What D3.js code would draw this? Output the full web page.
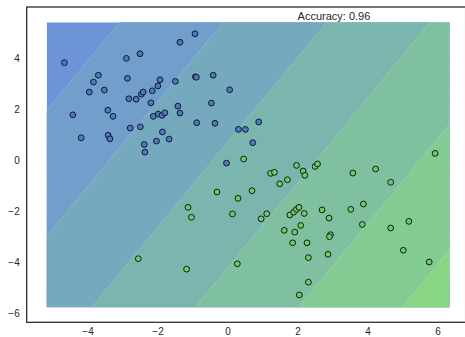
<!DOCTYPE html>
<html><head><meta charset="utf-8">
<script src="https://cdn.jsdelivr.net/npm/d3@7"></script>
<style>
body{margin:0;background:#fff}
svg{display:block}
text{font-family:"Liberation Sans",Arial,sans-serif;fill:#262626}
</style>
</head><body>
<svg id="c" width="465" height="337"></svg>
<script>
// ---- data ----
const blueX = [-4.66,-4.42,-4.18,-3.95,-3.83,-3.69,-3.52,-3.42,-3.27,-3.41,-3.36,-2.89,-2.86,-2.82,-2.78,-2.61,-2.50,-2.49,-2.46,-2.41,-2.38,-2.36,-2.19,-2.15,-2.12,-2.03,-1.99,-1.98,-1.93,-1.87,-1.86,-1.79,-1.67,-1.49,-1.42,-1.36,-1.36,-0.93,-0.92,-0.89,-0.88,-0.46,-0.41,-0.36,-0.03,0.06,0.31,0.51,0.89,0.72];
const blueY = [3.81,1.77,0.87,2.66,3.05,3.32,2.74,1.95,1.71,0.97,0.83,3.98,3.20,2.40,1.25,2.38,4.16,1.30,2.58,2.66,0.61,0.31,2.24,2.71,1.71,0.74,2.90,1.80,3.14,1.75,1.10,1.85,0.82,3.08,2.11,4.61,1.84,4.94,3.26,3.24,1.46,2.23,3.32,1.44,-0.12,2.75,1.20,1.20,1.49,0.68];
const greenX = [-0.30,0.30,-1.13,-1.03,0.14,-2.55,-1.17,0.28,5.93,0.46,1.97,2.50,2.57,4.23,1.23,1.34,2.16,2.21,1.71,1.49,3.58,4.66,0.70,0.96,1.12,1.78,1.89,1.97,2.04,2.19,2.70,2.90,3.52,3.88,3.85,4.66,5.18,1.62,1.92,2.09,1.86,2.27,2.94,2.91,2.31,2.87,5.02,5.76,2.31,2.05];
const greenY = [-1.25,-1.50,-1.85,-2.24,-2.11,-3.86,-4.27,-4.06,0.26,0.04,-0.21,-0.25,-0.15,-0.35,-0.52,-0.48,-0.43,-0.60,-0.77,-0.93,-0.51,-0.87,-1.20,-2.30,-2.10,-2.15,-2.04,-1.93,-1.85,-2.09,-1.95,-2.27,-1.93,-1.72,-2.52,-2.66,-2.40,-2.75,-2.82,-2.56,-3.24,-3.24,-2.92,-3.00,-3.82,-3.69,-3.53,-3.99,-4.78,-5.28];
const xTicks = [-4,-2,0,2,4,6];
const yTicks = [-6,-4,-2,0,2,4];
// linear decision function f(x,y) = x - y/boundarySlope, filled at these levels
const boundarySlope = 1.662;
const bandLevels = [-6.33,-3.37,-0.41,2.54,5.50,8.46];
const gridX = [-5.166, 6.337];
const gridY = [-5.765, 5.39];
const xLim = [-5.737, 6.80];
const yLim = [-6.35, 5.99];
const accuracyLabel = "Accuracy: 0.96";
const accuracyPos = [2, 5.5];
const blueColor = "#4878CF", greenColor = "#6ACC65";

// ---- drawing ----
const svg = d3.select("#c");
const x = d3.scaleLinear().domain(xLim).range([26.7, 465.6]);
const y = d3.scaleLinear().domain(yLim).range([322.3, 7]);

const nBands = bandLevels.length + 1;
const interp = d3.interpolateRgb(blueColor, greenColor);
function bandColor(k){
  const c = d3.rgb(interp(k/(nBands-1)));
  const a = 0.8;
  return d3.rgb(c.r*a+255*(1-a), c.g*a+255*(1-a), c.b*a+255*(1-a)).formatHex();
}

// grid of the decision function
const nx = 300, ny = 290;
const sx = (gridX[1]-gridX[0])/(nx-1), sy = (gridY[1]-gridY[0])/(ny-1);
const values = new Array(nx*ny);
for (let j=0;j<ny;j++) for (let i=0;i<nx;i++){
  const dx = gridX[0]+i*sx, dy = gridY[0]+j*sy;
  values[j*nx+i] = dx - dy/boundarySlope;
}
const contours = d3.contours().size([nx,ny]).thresholds(bandLevels)(values);
const proj = d3.geoTransform({point(cx,cy){
  this.stream.point(x(gridX[0]+(cx-0.5)*sx), y(gridY[0]+(cy-0.5)*sy));
}});
const path = d3.geoPath(proj);

svg.append("clipPath").attr("id","gclip").append("rect")
  .attr("x", x(gridX[0])).attr("y", y(gridY[1]))
  .attr("width", x(gridX[1])-x(gridX[0])).attr("height", y(gridY[0])-y(gridY[1]));

const g = svg.append("g").attr("clip-path","url(#gclip)");
g.append("rect")
  .attr("x", x(gridX[0])).attr("y", y(gridY[1]))
  .attr("width", x(gridX[1])-x(gridX[0])).attr("height", y(gridY[0])-y(gridY[1]))
  .attr("fill", bandColor(0));
g.selectAll("path.band").data(contours).join("path")
  .attr("class","band").attr("d", path)
  .attr("fill", (d,i)=>bandColor(i+1));
g.selectAll("path.edge").data(contours).join("path")
  .attr("class","edge").attr("d", path)
  .attr("fill","none").attr("stroke","#ffffff").attr("stroke-opacity",0.28).attr("stroke-width",0.7);

// points
const blue = blueX.map((v,i)=>[v, blueY[i]]);
const green = greenX.map((v,i)=>[v, greenY[i]]);
svg.append("g").selectAll("circle").data(blue).join("circle")
  .attr("cx", d=>x(d[0])).attr("cy", d=>y(d[1])).attr("r", 2.9)
  .attr("fill", blueColor).attr("stroke","#1a1a1a").attr("stroke-width",1);
svg.append("g").selectAll("circle").data(green).join("circle")
  .attr("cx", d=>x(d[0])).attr("cy", d=>y(d[1])).attr("r", 2.9)
  .attr("fill", greenColor).attr("stroke","#1a1a1a").attr("stroke-width",1);

// axes
const fmt = d => d < 0 ? "\u2212" + Math.abs(d) : String(d);
const xAxis = d3.axisBottom(x).tickValues(xTicks).tickFormat(fmt).tickSize(0).tickPadding(5.5);
const yAxis = d3.axisLeft(y).tickValues(yTicks).tickFormat(fmt).tickSize(0).tickPadding(7);
const xa = svg.append("g").attr("transform",`translate(0,${y(yLim[0])})`).call(xAxis);
const ya = svg.append("g").attr("transform",`translate(${x(xLim[0])},0)`).call(yAxis);
[xa, ya].forEach(a=>{
  a.select(".domain").remove();
  a.selectAll("text").attr("font-size","10px").attr("fill","#262626")
   .style("font-family",'"Liberation Sans",Arial,sans-serif');
});

// frame
const frame = svg.append("g").attr("stroke","#262626").attr("stroke-width",1.25).attr("fill","none");
frame.append("rect").attr("x", x(xLim[0])).attr("y", y(yLim[1]))
  .attr("width", x(xLim[1])-x(xLim[0])).attr("height", y(yLim[0])-y(yLim[1]));

// accuracy label
svg.append("text").attr("x", x(accuracyPos[0])).attr("y", y(accuracyPos[1]))
  .attr("font-size","11px").attr("text-anchor","start").text(accuracyLabel);
</script>
</body></html>
